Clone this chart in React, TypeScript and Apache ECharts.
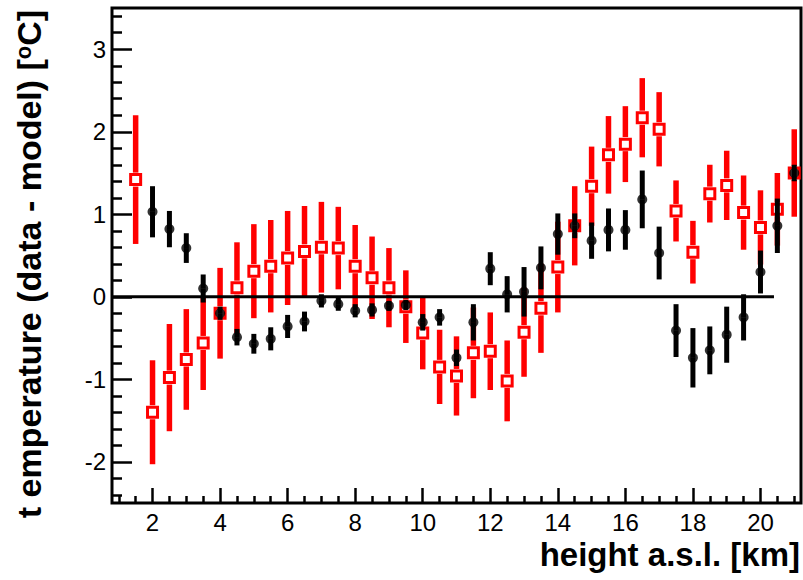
import React, { useEffect, useRef } from "react";
import * as echarts from "echarts";

// heights a.s.l. [km]
const redHeights = [1.5, 2, 2.5, 3, 3.5, 4, 4.5, 5, 5.5, 6, 6.5, 7, 7.5, 8, 8.5, 9, 9.5, 10, 10.5, 11, 11.5, 12, 12.5, 13, 13.5, 14, 14.5, 15, 15.5, 16, 16.5, 17, 17.5, 18, 18.5, 19, 19.5, 20, 20.5, 21];
const redValues = [1.42, -1.40, -0.98, -0.76, -0.56, -0.20, 0.11, 0.31, 0.37, 0.47, 0.55, 0.60, 0.59, 0.37, 0.23, 0.11, -0.12, -0.44, -0.85, -0.96, -0.68, -0.66, -1.02, -0.43, -0.14, 0.36, 0.86, 1.34, 1.72, 1.85, 2.17, 2.03, 1.04, 0.54, 1.25, 1.35, 1.02, 0.84, 1.06, 1.50];
const redErrors = [0.78, 0.63, 0.65, 0.61, 0.57, 0.55, 0.55, 0.57, 0.56, 0.57, 0.55, 0.55, 0.50, 0.50, 0.50, 0.48, 0.44, 0.44, 0.45, 0.48, 0.55, 0.47, 0.49, 0.54, 0.54, 0.55, 0.48, 0.48, 0.47, 0.46, 0.48, 0.45, 0.37, 0.38, 0.35, 0.42, 0.45, 0.45, 0.44, 0.53];

const blackHeights = [2, 2.5, 3, 3.5, 4, 4.5, 5, 5.5, 6, 6.5, 7, 7.5, 8, 8.5, 9, 9.5, 10, 10.5, 11, 11.5, 12, 12.5, 13, 13.5, 14, 14.5, 15, 15.5, 16, 16.5, 17, 17.5, 18, 18.5, 19, 19.5, 20, 20.5, 21];
const blackValues = [1.03, 0.82, 0.59, 0.10, -0.20, -0.49, -0.57, -0.51, -0.36, -0.30, -0.05, -0.09, -0.17, -0.16, -0.11, -0.10, -0.31, -0.25, -0.74, -0.31, 0.34, 0.03, 0.06, 0.35, 0.76, 0.86, 0.68, 0.81, 0.81, 1.18, 0.53, -0.41, -0.74, -0.65, -0.46, -0.25, 0.30, 0.86, 1.50];
const blackErrors = [0.31, 0.22, 0.18, 0.17, 0.08, 0.10, 0.12, 0.14, 0.14, 0.12, 0.08, 0.08, 0.08, 0.08, 0.06, 0.06, 0.10, 0.10, 0.10, 0.22, 0.20, 0.22, 0.30, 0.26, 0.25, 0.15, 0.22, 0.26, 0.24, 0.35, 0.32, 0.32, 0.36, 0.29, 0.34, 0.28, 0.26, 0.33, 0.10];

// zero reference line (from axis start to its end)
const zeroLine = [[0.8, 0], [20.4, 0]];

// axis ranges and ticks
const xRange = [0.8, 21.2];
const yRange = [-2.5, 3.5];
const xMajorTicks = [2, 4, 6, 8, 10, 12, 14, 16, 18, 20];
const xMinorTicks = [1, 1.5, 2.5, 3, 3.5, 4.5, 5, 5.5, 6.5, 7, 7.5, 8.5, 9, 9.5, 10.5, 11, 11.5, 12.5, 13, 13.5, 14.5, 15, 15.5, 16.5, 17, 17.5, 18.5, 19, 19.5, 20.5, 21];
const yMajorTicks = [-2, -1, 0, 1, 2, 3];
const yMinorTicks = [-2.4, -2.2, -1.8, -1.6, -1.4, -1.2, -0.8, -0.6, -0.4, -0.2, 0.2, 0.4, 0.6, 0.8, 1.2, 1.4, 1.6, 1.8, 2.2, 2.4, 2.6, 2.8, 3.2, 3.4];

const FONT = "'Liberation Sans', Arial, Helvetica, sans-serif";
const RED = "#ff0000";

function errorBarRender(color: string, gap: number, width: number) {
  return (params: any, api: any) => {
    const x = api.value(0);
    const y = api.value(1);
    const e = api.value(2);
    const top = api.coord([x, y + e]);
    const bot = api.coord([x, y - e]);
    const c = api.coord([x, y]);
    const children: any[] = [];
    const style = { stroke: color, lineWidth: width };
    if (c[1] - gap > top[1]) {
      children.push({ type: "line", shape: { x1: top[0], y1: top[1], x2: c[0], y2: c[1] - gap }, style });
    }
    if (c[1] + gap < bot[1]) {
      children.push({ type: "line", shape: { x1: c[0], y1: c[1] + gap, x2: bot[0], y2: bot[1] }, style });
    }
    return { type: "group", children };
  };
}

export default function App() {
  const ref = useRef<HTMLDivElement>(null);
  useEffect(() => {
    if (!ref.current) return;
    const chart = echarts.init(ref.current, null, { renderer: "svg" });
    const redData = redHeights.map((h, i) => [h, redValues[i], redErrors[i]]);
    const blackData = blackHeights.map((h, i) => [h, blackValues[i], blackErrors[i]]);
    const tickStyle = { color: "#000", width: 2.5 };
    const majorX = {
      type: "value", min: xRange[0], max: xRange[1], position: "bottom",
      axisLine: { show: false, onZero: false }, splitLine: { show: false },
      axisTick: { show: true, inside: true, length: 15, customValues: xMajorTicks, lineStyle: tickStyle },
      axisLabel: { show: true, customValues: xMajorTicks, fontSize: 24, lineHeight: 24, fontFamily: FONT, color: "#000", margin: 7 },
    };
    const minorX = {
      type: "value", min: xRange[0], max: xRange[1], position: "bottom",
      axisLine: { show: false, onZero: false }, splitLine: { show: false },
      axisTick: { show: true, inside: true, length: 7, customValues: xMinorTicks, lineStyle: tickStyle },
      axisLabel: { show: false },
    };
    const majorY = {
      type: "value", min: yRange[0], max: yRange[1], position: "left",
      axisLine: { show: false, onZero: false }, splitLine: { show: false },
      axisTick: { show: true, inside: true, length: 20, customValues: yMajorTicks, lineStyle: tickStyle },
      axisLabel: { show: true, customValues: yMajorTicks, fontSize: 24, fontFamily: FONT, color: "#000", margin: 6 },
    };
    const minorY = {
      type: "value", min: yRange[0], max: yRange[1], position: "left",
      axisLine: { show: false, onZero: false }, splitLine: { show: false },
      axisTick: { show: true, inside: true, length: 10, customValues: yMinorTicks, lineStyle: tickStyle },
      axisLabel: { show: false },
    };
    chart.setOption({
      animation: false,
      grid: { left: 112, right: 2, top: 8, bottom: 77, show: true, borderColor: "#000", borderWidth: 3, backgroundColor: "transparent" },
      xAxis: [majorX, minorX],
      yAxis: [majorY, minorY],
      graphic: [
        {
          type: "text", right: 3, top: 538,
          style: { text: "height a.s.l. [km]", font: `bold 33px ${FONT}`, fill: "#000" },
        },
        {
          type: "text", x: 29, y: 264, rotation: Math.PI / 2,
          style: {
            text: "t emperature (data - model) [{s|o}C]",
            font: `bold 34px ${FONT}`, fill: "#000", align: "center", verticalAlign: "middle",
            rich: { s: { fontSize: 22, fontWeight: "bold", fontFamily: FONT, verticalAlign: "top", lineHeight: 20, fill: "#000" } },
          },
        },
      ],
      series: [
        { type: "custom", name: "red-err", xAxisIndex: 0, yAxisIndex: 0, data: redData, renderItem: errorBarRender(RED, 7, 5.5), z: 2, silent: true },
        {
          type: "scatter", name: "red", xAxisIndex: 0, yAxisIndex: 0, data: redData.map((d) => [d[0], d[1]]),
          symbol: "rect", symbolSize: 10, z: 3, silent: true,
          itemStyle: { color: "transparent", borderColor: RED, borderWidth: 3, opacity: 1 },
        },
        { type: "custom", name: "black-err", xAxisIndex: 0, yAxisIndex: 0, data: blackData, renderItem: errorBarRender("#000", 0, 5), z: 4, silent: true },
        {
          type: "scatter", name: "black", xAxisIndex: 0, yAxisIndex: 0, data: blackData.map((d) => [d[0], d[1]]),
          symbol: "circle", symbolSize: 10, z: 5, silent: true, itemStyle: { color: "#000" },
        },
        {
          type: "line", name: "zero", xAxisIndex: 0, yAxisIndex: 0, data: zeroLine, symbol: "none", z: 6, silent: true,
          lineStyle: { color: "#000", width: 3 },
        },
      ],
    });
    return () => chart.dispose();
  }, []);
  return <div ref={ref} style={{ width: 803, height: 580, position: "absolute", left: 0, top: 0 }} />;
}
